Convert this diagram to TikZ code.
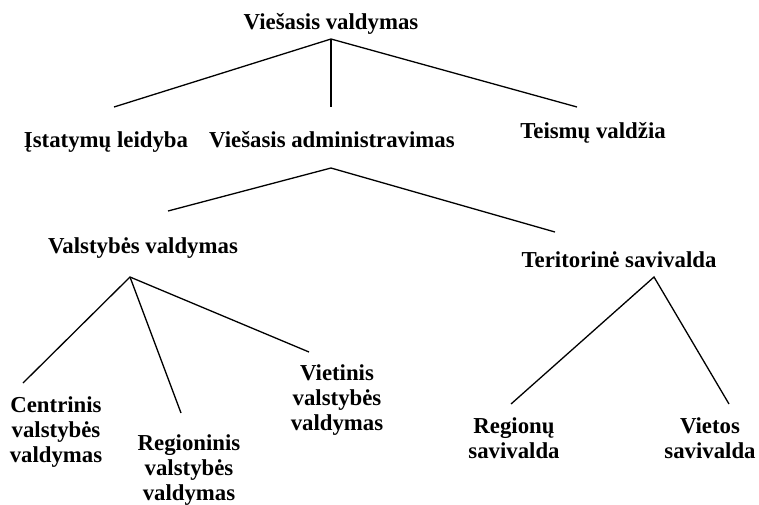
\documentclass[tikz,border=0pt]{standalone}
\usepackage{fontspec}
\setmainfont{Liberation Serif}
\begin{document}
\begin{tikzpicture}[x=1pt,y=-1pt,
    lbl/.style={font=\fontsize{22.8}{25}\selectfont\bfseries, align=center, inner sep=0pt},
    branch/.style={line width=1.3pt}]
  \useasboundingbox (0,0) rectangle (759,504);
  % first level
  \node[lbl, anchor=base] (vv) at (331,29) {Viešasis valdymas};
  \node[lbl, anchor=base] (il) at (106,147) {Įstatymų leidyba};
  \node[lbl, anchor=base] (va) at (332,147) {Viešasis administravimas};
  \node[lbl, anchor=base] (tv) at (593,138) {Teismų valdžia};
  % second level
  \node[lbl, anchor=base] (valst) at (143,253) {Valstybės valdymas};
  \node[lbl, anchor=base] (terit) at (619,267) {Teritorinė savivalda};
  % leaves
  \node[lbl, anchor=north] (centr) at (56,396) {Centrinis\\valstybės\\valdymas};
  \node[lbl, anchor=north] (region) at (189,434) {Regioninis\\valstybės\\valdymas};
  \node[lbl, anchor=north] (vietin) at (337,364) {Vietinis\\valstybės\\valdymas};
  \node[lbl, anchor=north] (regsav) at (514,417) {Regionų\\savivalda};
  \node[lbl, anchor=north] (vietsav) at (710,417) {Vietos\\savivalda};
  % line ends
  \coordinate (vv-b) at (331,39);
  \coordinate (il-t) at (114,107);
  \coordinate (va-t) at (331,107);
  \coordinate (tv-t) at (577,107);
  \coordinate (va-b) at (331,168);
  \coordinate (valst-t) at (168,211);
  \coordinate (terit-t) at (555,232);
  \coordinate (valst-b) at (130,277);
  \coordinate (centr-t) at (23,383);
  \coordinate (region-t) at (181,413);
  \coordinate (vietin-t) at (309,352);
  \coordinate (terit-b) at (654,277);
  \coordinate (regsav-t) at (511,404);
  \coordinate (vietsav-t) at (729,404);
  % branches
  \draw[branch] (il-t) -- (vv-b) -- (tv-t);
  \draw[branch] (vv-b) -- (va-t);
  \draw[branch] (valst-t) -- (va-b) -- (terit-t);
  \draw[branch] (centr-t) -- (valst-b) -- (vietin-t);
  \draw[branch] (valst-b) -- (region-t);
  \draw[branch] (regsav-t) -- (terit-b) -- (vietsav-t);
\end{tikzpicture}
\end{document}
